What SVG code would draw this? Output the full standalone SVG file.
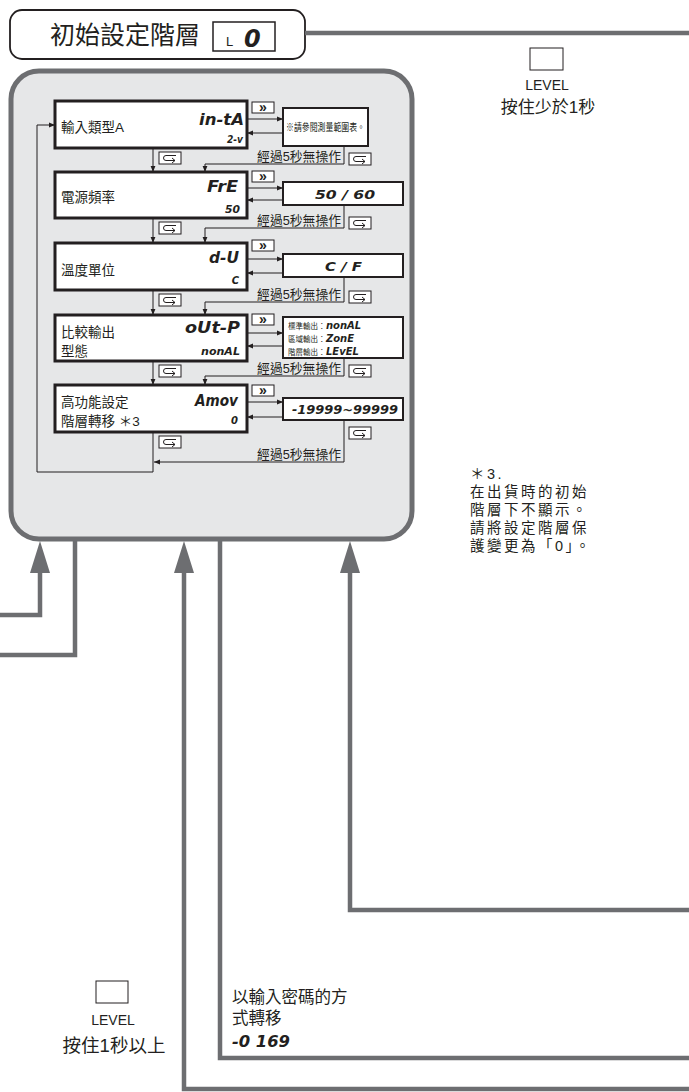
<svg xmlns="http://www.w3.org/2000/svg" width="689" height="1092" viewBox="0 0 689 1092">
<defs>
<style>
.cjk{font-family:"Liberation Sans","Noto Sans CJK TC",sans-serif;fill:#231f20}
.seg{font-family:"DejaVu Sans","Liberation Sans",sans-serif;font-weight:bold;font-style:italic;fill:#231f20}
.box{fill:#fff;stroke:#231f20;stroke-width:3}
.rbox{fill:#fff;stroke:#231f20;stroke-width:2}
.key{fill:#fff;stroke:#231f20;stroke-width:1}
.ln{fill:none;stroke:#231f20;stroke-width:1}
.gln{fill:none;stroke:#6d6e71;stroke-width:4.5}
.garr{fill:#6d6e71}
.lbl{font-size:13.5px}
.wait{font-size:12.8px}
</style>
<marker id="ah" viewBox="0 0 10 10" refX="10" refY="5" markerWidth="6" markerHeight="6" markerUnits="userSpaceOnUse" orient="auto">
<path d="M0,1 L10,5 L0,9 z" fill="#231f20"/>
</marker>
<g id="ret">
<rect class="key" x="0" y="0" width="22" height="12"/>
<path d="M17,3.5 H7 a2.5,2.5 0 0 0 0,5 H16 M13,6 L16,8.5 L13,11" fill="none" stroke="#231f20" stroke-width="1"/>
</g>
</defs>
<rect width="689" height="1092" fill="#fff"/>

<g id="panel">
<rect x="11" y="71" width="401" height="468" rx="28" fill="#e6e7e8" stroke="#6d6e71" stroke-width="5"/>
</g>

<g id="header">
<rect x="10" y="10" width="295" height="49" rx="12" fill="#fff" stroke="#231f20" stroke-width="1.8"/>
<text class="cjk" x="50" y="44" font-size="25">初始設定階層</text>
<rect x="213" y="22" width="62" height="29" fill="#fff" stroke="#231f20" stroke-width="1.5"/>
<text class="cjk" x="226" y="46" font-size="13">L</text>
<text class="seg" x="244" y="47" font-size="24">0</text>
</g>

<g id="connectors">
<path class="gln" d="M305,33 H689"/>
<polygon class="garr" points="40,541 30,573 50,573"/>
<path class="gln" d="M40,572 V615 H0"/>
<path class="gln" d="M75,541 V655 H0"/>
<polygon class="garr" points="184,541 174,573 194,573"/>
<path class="gln" d="M184,572 V1089 H689"/>
<path class="gln" d="M220,541 V1058 H689"/>
<polygon class="garr" points="350,541 340,573 360,573"/>
<path class="gln" d="M350,572 V910 H689"/>

<path class="ln" d="M153,148 V172" marker-end="url(#ah)"/>
<path class="ln" d="M153,218 V243" marker-end="url(#ah)"/>
<path class="ln" d="M153,290 V315" marker-end="url(#ah)"/>
<path class="ln" d="M153,361 V385" marker-end="url(#ah)"/>

<path class="ln" d="M247,119 H283" marker-end="url(#ah)"/>
<path class="ln" d="M283,133 H247" marker-end="url(#ah)"/>
<path class="ln" d="M247,188 H283" marker-end="url(#ah)"/>
<path class="ln" d="M283,200 H247" marker-end="url(#ah)"/>
<path class="ln" d="M247,259 H283" marker-end="url(#ah)"/>
<path class="ln" d="M283,273 H247" marker-end="url(#ah)"/>
<path class="ln" d="M247,333 H283" marker-end="url(#ah)"/>
<path class="ln" d="M283,346 H247" marker-end="url(#ah)"/>
<path class="ln" d="M247,402 H283" marker-end="url(#ah)"/>
<path class="ln" d="M283,417 H247" marker-end="url(#ah)"/>

<path class="ln" d="M344,146 V164 H205 V172" marker-end="url(#ah)"/>
<path class="ln" d="M344,205 V228 H205 V243" marker-end="url(#ah)"/>
<path class="ln" d="M344,277 V302 H205 V315" marker-end="url(#ah)"/>
<path class="ln" d="M344,358 V376 H205 V385" marker-end="url(#ah)"/>
<path class="ln" d="M344,420 V462 H154" marker-end="url(#ah)"/>
<path class="ln" d="M153,432 V472 H37 V125 H55" marker-end="url(#ah)"/>

<g class="cjk wait" text-anchor="end">
<text x="341" y="161">經過5秒無操作</text>
<text x="341" y="225">經過5秒無操作</text>
<text x="341" y="299">經過5秒無操作</text>
<text x="341" y="373">經過5秒無操作</text>
<text x="341" y="459">經過5秒無操作</text>
</g>

<use href="#ret" x="159" y="152"/>
<use href="#ret" x="159" y="222"/>
<use href="#ret" x="159" y="294"/>
<use href="#ret" x="159" y="365"/>
<use href="#ret" x="159" y="436"/>
<use href="#ret" x="349" y="153"/>
<use href="#ret" x="349" y="217"/>
<use href="#ret" x="349" y="291"/>
<use href="#ret" x="349" y="365"/>
<use href="#ret" x="349" y="427"/>

<g>
<rect class="key" x="252" y="102" width="22" height="11"/>
<rect class="key" x="252" y="171" width="22" height="11"/>
<rect class="key" x="252" y="240" width="22" height="11"/>
<rect class="key" x="252" y="314" width="22" height="11"/>
<rect class="key" x="252" y="385" width="22" height="11"/>
<g class="cjk" font-size="14" font-weight="bold" text-anchor="middle">
<text x="263" y="112">»</text>
<text x="263" y="181">»</text>
<text x="263" y="250">»</text>
<text x="263" y="324">»</text>
<text x="263" y="395">»</text>
</g>
</g>
</g>

<g id="node-input-type">
<rect class="box" x="55" y="101" width="192" height="47"/>
<text class="cjk lbl" x="61" y="132">輸入類型A</text>
<text class="seg" x="199" y="125" font-size="16" textLength="45" lengthAdjust="spacingAndGlyphs">in-tA</text>
<text class="seg" x="227" y="143" font-size="10" textLength="16" lengthAdjust="spacingAndGlyphs">2-v</text>
</g>
<g id="node-range-note">
<rect class="rbox" x="283" y="108" width="85" height="38"/>
<text class="cjk" x="286" y="131" font-size="10.5" textLength="79" lengthAdjust="spacingAndGlyphs">※請參閱測量範圍表。</text>
</g>

<g id="node-freq">
<rect class="box" x="55" y="172" width="192" height="46"/>
<text class="cjk lbl" x="61" y="202">電源頻率</text>
<text class="seg" x="207" y="192" font-size="16" textLength="31" lengthAdjust="spacingAndGlyphs">FrE</text>
<text class="seg" x="225" y="213" font-size="10" textLength="15" lengthAdjust="spacingAndGlyphs">50</text>
</g>
<g id="node-freq-val">
<rect class="rbox" x="283" y="182" width="120" height="23"/>
<text class="seg" x="315" y="199" font-size="12" textLength="60" lengthAdjust="spacingAndGlyphs">50 / 60</text>
</g>

<g id="node-temp-unit">
<rect class="box" x="55" y="243" width="192" height="47"/>
<text class="cjk lbl" x="61" y="275">溫度單位</text>
<text class="seg" x="209" y="263" font-size="16" textLength="30" lengthAdjust="spacingAndGlyphs">d-U</text>
<text class="seg" x="239" y="284" font-size="10" text-anchor="end">C</text>
</g>
<g id="node-temp-unit-val">
<rect class="rbox" x="283" y="254" width="120" height="23"/>
<text class="seg" x="325" y="271" font-size="12" textLength="37" lengthAdjust="spacingAndGlyphs">C / F</text>
</g>

<g id="node-out-type">
<rect class="box" x="55" y="315" width="192" height="46"/>
<text class="cjk lbl" x="61" y="337">比較輸出</text>
<text class="cjk lbl" x="61" y="356">型態</text>
<text class="seg" x="185" y="333" font-size="16" textLength="55" lengthAdjust="spacingAndGlyphs">oUt-P</text>
<text class="seg" x="201" y="355" font-size="10" textLength="39" lengthAdjust="spacingAndGlyphs">nonAL</text>
</g>
<g id="node-out-type-val">
<rect class="rbox" x="283" y="317" width="120" height="41"/>
<g class="cjk" font-size="7.5">
<text x="288" y="329">標準輸出：</text>
<text x="288" y="342">區域輸出：</text>
<text x="288" y="355">階層輸出：</text>
</g>
<g class="seg" font-size="10">
<text x="326" y="329">nonAL</text>
<text x="326" y="342">ZonE</text>
<text x="326" y="355">LEvEL</text>
</g>
</g>

<g id="node-adv">
<rect class="box" x="55" y="385" width="192" height="47"/>
<text class="cjk lbl" x="61" y="407">高功能設定</text>
<text class="cjk lbl" x="61" y="426">階層轉移 ＊3</text>
<text class="seg" x="195" y="406" font-size="16" textLength="43" lengthAdjust="spacingAndGlyphs">Amov</text>
<text class="seg" x="238" y="424" font-size="10" text-anchor="end">0</text>
</g>
<g id="node-adv-val">
<rect class="rbox" x="283" y="398" width="120" height="22"/>
<text class="seg" x="292" y="414" font-size="12" textLength="106" lengthAdjust="spacingAndGlyphs">-19999~99999</text>
</g>

<g id="note3" class="cjk" font-size="14.5" letter-spacing="2.5" fill="#333">
<text x="470" y="479">＊3.</text>
<text x="470" y="497">在出貨時的初始</text>
<text x="470" y="515">階層下不顯示。</text>
<text x="470" y="533">請將設定階層保</text>
<text x="470" y="551">護變更為「0」。</text>
</g>

<g id="level-short">
<rect class="key" x="530" y="48" width="33" height="22" stroke-width="1.5"/>
<text class="cjk" x="547" y="90" font-size="14" text-anchor="middle">LEVEL</text>
<text class="cjk" x="548" y="113" font-size="17" text-anchor="middle">按住少於1秒</text>
</g>

<g id="level-long">
<rect class="key" x="96" y="981" width="32" height="22" stroke-width="1.5"/>
<text class="cjk" x="113" y="1025" font-size="14" text-anchor="middle">LEVEL</text>
<text class="cjk" x="114" y="1052" font-size="18.5" text-anchor="middle">按住1秒以上</text>
</g>

<g id="password-note">
<text class="cjk" x="232" y="1003" font-size="16.5">以輸入密碼的方</text>
<text class="cjk" x="232" y="1024" font-size="16.5">式轉移</text>
<text class="seg" x="232" y="1047" font-size="16" textLength="58" lengthAdjust="spacingAndGlyphs">-0 169</text>
</g>
</svg>
